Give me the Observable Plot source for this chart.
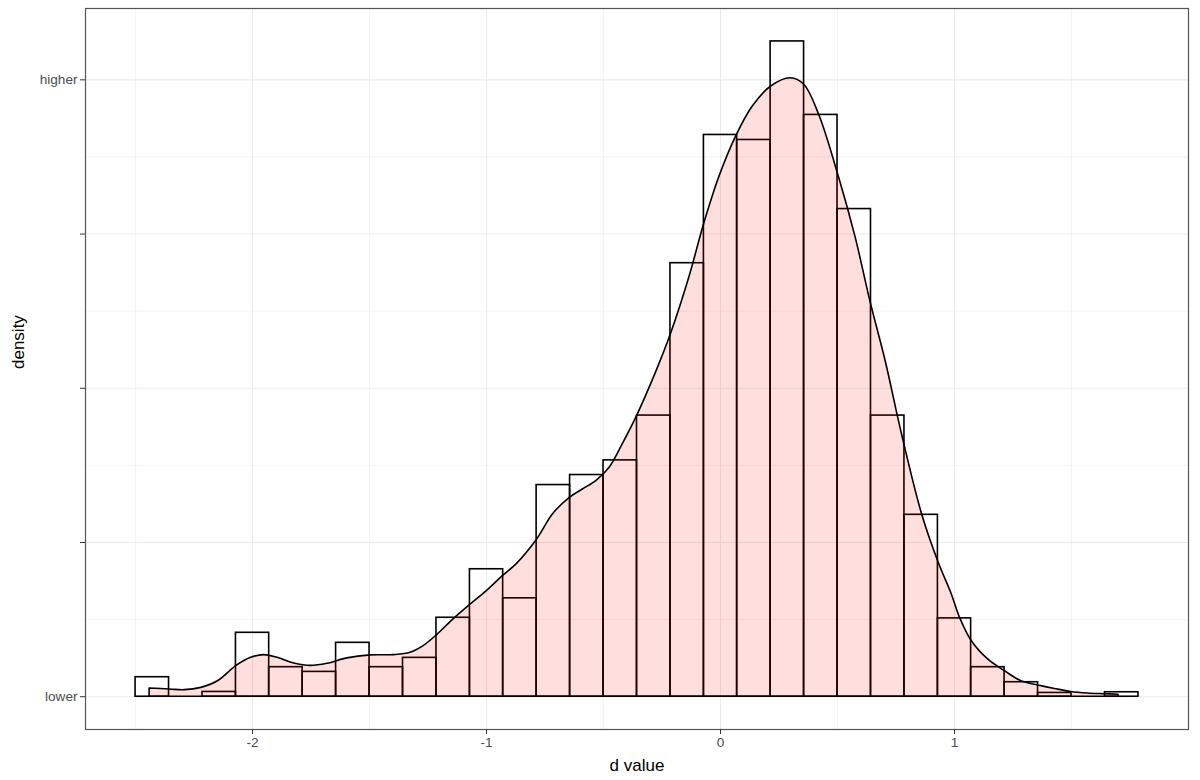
<!DOCTYPE html>
<html>
<head>
<meta charset="utf-8">
<script src="https://cdn.jsdelivr.net/npm/d3@7"></script>
<script src="https://cdn.jsdelivr.net/npm/@observablehq/plot@0.6"></script>
<style>
  html, body { margin: 0; padding: 0; background: #ffffff; }
  #chart { width: 1200px; height: 780px; }
</style>
</head>
<body>
<div id="chart"></div>
<script>
// Histogram bin edges (30 bins) and density heights
const binEdges = [-2.5, -2.357, -2.214, -2.071, -1.929, -1.786, -1.643, -1.5, -1.357, -1.214, -1.071, -0.929, -0.786, -0.643, -0.5, -0.357, -0.214, -0.071, 0.071, 0.214, 0.357, 0.5, 0.643, 0.786, 0.929, 1.071, 1.214, 1.357, 1.5, 1.643, 1.786];
const binDensity = [0.0253, 0, 0.0062, 0.0829, 0.0383, 0.0322, 0.0699, 0.0383, 0.0504, 0.1024, 0.1653, 0.1276, 0.2745, 0.2875, 0.3065, 0.3646, 0.5622, 0.7285, 0.7220, 0.8498, 0.7545, 0.6324, 0.3646, 0.2359, 0.1016, 0.0383, 0.0188, 0.0049, 0, 0.0058];

// Kernel density curve
const densX = [-2.44, -2.354, -2.29, -2.219, -2.148, -2.07, -2.006, -1.95, -1.893, -1.822, -1.751, -1.68, -1.595, -1.496, -1.396, -1.325, -1.269, -1.211, -1.141, -1.07, -0.999, -0.928, -0.871, -0.786, -0.715, -0.644, -0.587, -0.53, -0.474, -0.417, -0.36, -0.275, -0.211, -0.133, -0.069, -0.005, 0.066, 0.137, 0.215, 0.300, 0.357, 0.421, 0.506, 0.577, 0.641, 0.705, 0.775, 0.861, 0.932, 0.988, 1.024, 1.074, 1.145, 1.216, 1.286, 1.358, 1.429, 1.499, 1.570, 1.642, 1.701];
const densY = [0.0107, 0.0094, 0.0085, 0.0115, 0.020, 0.0397, 0.0505, 0.054, 0.0505, 0.0431, 0.040, 0.0427, 0.0497, 0.0536, 0.054, 0.057, 0.0657, 0.080, 0.1003, 0.119, 0.137, 0.157, 0.172, 0.203, 0.237, 0.258, 0.269, 0.280, 0.297, 0.328, 0.362, 0.421, 0.471, 0.544, 0.614, 0.674, 0.726, 0.765, 0.791, 0.802, 0.794, 0.755, 0.674, 0.596, 0.512, 0.436, 0.341, 0.237, 0.174, 0.133, 0.102, 0.072, 0.048, 0.033, 0.020, 0.0146, 0.0101, 0.0062, 0.0042, 0.0033, 0.0026];

// Axes
const xTickValues = [-2, -1, 0, 1];
const xMinorValues = [-2.5, -1.5, -0.5, 0.5, 1.5];
const yTickValues = [0, 0.2, 0.4, 0.6, 0.8];
const yTickLabels = ["lower", "", "", "", "higher"];
const yMinorValues = [0.1, 0.3, 0.5, 0.7];
const xTitle = "d value";
const yTitle = "density";

const bins = binDensity.map((d, i) => ({x1: binEdges[i], x2: binEdges[i + 1], d}));
const dens = densX.map((x, i) => ({x, y: densY[i]}));

const chart = Plot.plot({
  width: 1200,
  height: 780,
  marginLeft: 85,
  marginRight: 12,
  marginTop: 8,
  marginBottom: 51,
  x: {domain: [-2.714, 2.0]},
  y: {domain: [-0.0425, 0.8925]},
  style: {fontFamily: "'Liberation Sans', Arial, Helvetica, sans-serif", background: "#ffffff", overflow: "visible"},
  marks: [
    Plot.gridX(xMinorValues, {stroke: "#ebebeb", strokeOpacity: 1, strokeWidth: 0.6}),
    Plot.gridY(yMinorValues, {stroke: "#ebebeb", strokeOpacity: 1, strokeWidth: 0.6}),
    Plot.gridX(xTickValues, {stroke: "#ebebeb", strokeOpacity: 1, strokeWidth: 1.1}),
    Plot.gridY(yTickValues, {stroke: "#ebebeb", strokeOpacity: 1, strokeWidth: 1.1}),
    Plot.rect(bins, {x1: "x1", x2: "x2", y1: () => 0, y2: "d", fill: "none", stroke: "#000000", strokeWidth: 1.6}),
    Plot.areaY(dens, {x: "x", y: "y", fill: "#ff0000", fillOpacity: 0.13, stroke: "#000000", strokeWidth: 1.6, curve: "catmull-rom"}),
    Plot.frame({stroke: "#555555", strokeWidth: 1.2}),
    Plot.axisX(xTickValues, {tickSize: 5, tickPadding: 3, fontSize: 13.6, stroke: "#333333", fill: "#4d4d4d", tickFormat: d => String(d), label: null}),
    Plot.axisY(yTickValues, {tickSize: 5, tickPadding: 3, fontSize: 13.6, stroke: "#333333", fill: "#4d4d4d", tickFormat: d => yTickLabels[yTickValues.indexOf(d)], label: null}),
    Plot.text([xTitle], {frameAnchor: "bottom", dy: 36, fontSize: 17, fill: "#000000", lineAnchor: "middle"}),
    Plot.text([yTitle], {frameAnchor: "left", dx: -67, rotate: -90, fontSize: 17, fill: "#000000", lineAnchor: "middle"})
  ]
});
document.getElementById("chart").appendChild(chart);
</script>
</body>
</html>
